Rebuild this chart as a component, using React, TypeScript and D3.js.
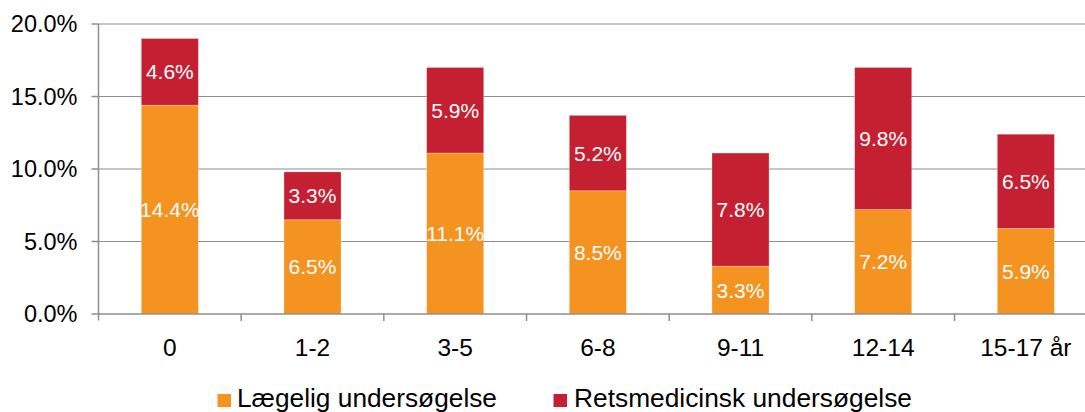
import React from "react";
import * as d3 from "d3";

const categories = ["0", "1-2", "3-5", "6-8", "9-11", "12-14", "15-17 år"];
const laegelig = [14.4, 6.5, 11.1, 8.5, 3.3, 7.2, 5.9];
const retsmedicinsk = [4.6, 3.3, 5.9, 5.2, 7.8, 9.8, 6.5];
const yTicks = [0, 5, 10, 15, 20];
const seriesNames = ["Lægelig undersøgelse", "Retsmedicinsk undersøgelse"];
const colors = ["#F4931F", "#C51F32"];

const W = 1085;
const H = 412;
const left = 98.5;
const right = 1097.2;
const top = 24;
const bottom = 314;
const font = "'Liberation Sans', Arial, sans-serif";

export default function App() {
  const x = d3.scaleBand<string>().domain(categories).range([left, right]).paddingInner(0.6).paddingOuter(0.3);
  const y = d3.scaleLinear().domain([0, 20]).range([bottom, top]);
  const fmt = (v: number) => d3.format(".1f")(v) + "%";
  const step = x.step();
  const stackData = categories.map((c, i) => ({ cat: c, a: laegelig[i], b: retsmedicinsk[i] }));
  const stack = d3.stack<any>().keys(["a", "b"])(stackData);

  const legend = [
    { sx: 217.5, tx: 237, len: 260 },
    { sx: 553.5, tx: 574, len: 338 },
  ];

  return (
    <svg width={W} height={H} style={{ position: "absolute", left: 0, top: 0, display: "block" }} fontFamily={font}>
      <rect width={W} height={H} fill="#fff" />
      {yTicks.filter((t) => t > 0).map((t) => (
        <line key={"g" + t} x1={left} x2={W} y1={y(t)} y2={y(t)} stroke="#8E8E8E" strokeWidth={1.2} />
      ))}
      {stack.map((s, si) =>
        s.map((d, i) => {
          const y0 = y(d[0]);
          const y1 = y(d[1]);
          const xx = x(categories[i])!;
          const val = si === 0 ? laegelig[i] : retsmedicinsk[i];
          return (
            <g key={si + "-" + i}>
              <rect x={xx} y={y1} width={x.bandwidth()} height={y0 - y1} fill={colors[si]} stroke="#fff" strokeOpacity={0.35} strokeWidth={0.8} />
              <text x={xx + x.bandwidth() / 2} y={(y0 + y1) / 2 + 7.5} textAnchor="middle" fontSize={21} fill="#fff">
                {fmt(val)}
              </text>
            </g>
          );
        })
      )}
      {/* y axis */}
      <line x1={left} x2={left} y1={top} y2={bottom + 6.5} stroke="#8E8E8E" strokeWidth={1.5} />
      {yTicks.map((t) => (
        <g key={"t" + t}>
          <line x1={left - 7} x2={left} y1={y(t)} y2={y(t)} stroke="#8E8E8E" strokeWidth={1.5} />
          <text x={77.5} y={y(t) + 8.3} textAnchor="end" fontSize={23.5} fill="#000">
            {fmt(t)}
          </text>
        </g>
      ))}
      {/* x axis */}
      <line x1={left} x2={W} y1={bottom} y2={bottom} stroke="#8E8E8E" strokeWidth={1.5} />
      {categories.map((c, i) => (
        <line key={"xt" + c} x1={left + (i + 1) * step} x2={left + (i + 1) * step} y1={bottom} y2={bottom + 7} stroke="#8E8E8E" strokeWidth={1.5} />
      ))}
      {categories.map((c) => (
        <text key={"xl" + c} x={x(c)! + x.bandwidth() / 2} y={356} textAnchor="middle" fontSize={24.5} fill="#000">
          {c}
        </text>
      ))}
      {/* legend */}
      {seriesNames.map((n, i) => (
        <g key={"lg" + i}>
          <rect x={legend[i].sx} y={394} width={13.5} height={13} fill={colors[i]} />
          <text x={legend[i].tx} y={407.3} fontSize={25} fill="#000" textLength={legend[i].len} lengthAdjust="spacingAndGlyphs">
            {n}
          </text>
        </g>
      ))}
    </svg>
  );
}
